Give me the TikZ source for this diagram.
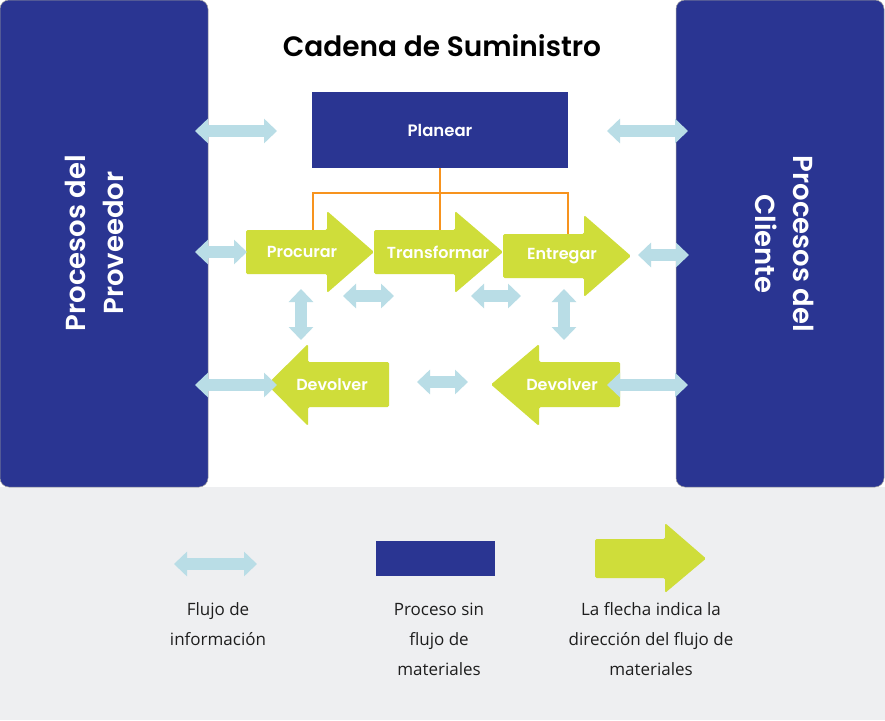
\documentclass[tikz,border=0pt]{standalone}
\usepackage{fontspec}
\setmainfont{Poppins}[BoldFont={Poppins SemiBold}]
\newfontfamily\legendfont{Open Sans}
\usetikzlibrary{arrows.meta}

\definecolor{navy}{HTML}{2A3592}
\definecolor{lime}{HTML}{CFDD3A}
\definecolor{skyinfo}{HTML}{B9DDE6}
\definecolor{tangerine}{HTML}{F7931E}
\definecolor{paper}{HTML}{EEEFF1}
\definecolor{ink}{HTML}{1E1E1E}

% Block arrow for material flow:
% #1 body end x, #2 body top, #3 body bottom, #4 head base x,
% #5 head top, #6 head bottom, #7 tip x
\newcommand\materialarrow[7]{%
  \fill[lime, rounded corners=1.5pt]
    (#1,#2) -- (#4,#2) -- (#4,#5) -- (#7,{(#2+#3)/2}) -- (#4,#6)
    -- (#4,#3) -- (#1,#3) -- cycle;}

\tikzset{
  sidebox/.style={fill=navy, draw=gray!75, line width=0.5pt, rounded corners=9pt,
    inner sep=0pt, outer sep=0pt, anchor=north west},
  sidetitle/.style={text=white, align=center, inner sep=0pt,
    font=\bfseries\fontsize{27.5}{38}\selectfont},
  planbox/.style={fill=navy, text=white, inner sep=0pt,
    minimum width=256pt, minimum height=76pt, font=\bfseries\fontsize{16.5}{18}\selectfont},
  flowlabel/.style={text=white, inner sep=0pt, font=\bfseries\fontsize{16}{18}\selectfont},
  planlink/.style={draw=tangerine, line width=2.8pt},
  info/.style={draw=skyinfo, line width=12.5pt,
    {Triangle[width=24pt,length=13pt]}-{Triangle[width=24pt,length=13pt]}},
  legendtext/.style={text=ink, align=center, inner sep=0pt,
    font=\legendfont\fontsize{17}{30}\selectfont},
}

\begin{document}
\begin{tikzpicture}[x=1pt, y=-1pt]
  \useasboundingbox (0,0) rectangle (885,720);
  % backgrounds
  \fill[white] (0,0) rectangle (885,487);
  \fill[paper] (0,487) rectangle (885,720);

  % outer partners
  \node[sidebox, minimum width=208pt, minimum height=487pt] (proveedor) at (0,0) {};
  \node[sidebox, minimum width=208pt, minimum height=487pt] (cliente) at (676,0) {};
  \node[sidetitle, rotate=90] (proveedortext) at (94,243) {Procesos del\\Proveedor};
  \node[sidetitle, rotate=-90] (clientetext) at (785,244) {Procesos del\\Cliente};

  % title
  \node[font=\bfseries\fontsize{28}{30}\selectfont, text=black, inner sep=0pt]
    (title) at (442,46) {Cadena de Suministro};

  % planning
  \node[planbox] (planear) at (440,130) {Planear};

  % planning links to the material processes
  \coordinate (procTop) at (313,230);
  \coordinate (transTop) at (440,230);
  \coordinate (entTop) at (568,234);
  \draw[planlink] (planear.south) -- (transTop);
  \draw[planlink] (procTop) -- ++(0,-37) -| (entTop);

  % material flow processes
  \materialarrow{246}{230}{274}{327}{211}{293}{374}
  \materialarrow{374}{230}{274}{455}{211}{293}{503}
  \materialarrow{503}{234}{278}{584}{215}{297}{631}
  \materialarrow{389}{362}{407}{308}{344}{426}{267}
  \materialarrow{620}{362}{407}{539}{344}{426}{491}

  \node[flowlabel] (procurar) at (302,252) {Procurar};
  \node[flowlabel] (transformar) at (438,252) {Transformar};
  \node[flowlabel] (entregar) at (562,256) {Entregar};
  \node[flowlabel] (devolverA) at (332,385) {Devolver};
  \node[flowlabel] (devolverB) at (562,385) {Devolver};

  % information flows
  \coordinate (iA1) at (195,131); \coordinate (iA2) at (277,131);
  \coordinate (iB1) at (607,131); \coordinate (iB2) at (688,131);
  \coordinate (iC1) at (195,252); \coordinate (iC2) at (247,252);
  \coordinate (iD1) at (638,255); \coordinate (iD2) at (689,255);
  \coordinate (iE1) at (195,385); \coordinate (iE2) at (277,385);
  \coordinate (iF1) at (607,385); \coordinate (iF2) at (688,385);
  \coordinate (iG1) at (343,296); \coordinate (iG2) at (394,296);
  \coordinate (iH1) at (471,296); \coordinate (iH2) at (521,296);
  \coordinate (iJ1) at (301,289); \coordinate (iJ2) at (301,340);
  \coordinate (iK1) at (564,289); \coordinate (iK2) at (564,340);
  \coordinate (iL1) at (417,382); \coordinate (iL2) at (468,382);
  \foreach \p in {A,B,C,D,E,F,G,H,J,K,L}
    \draw[info] (i\p1) -- (i\p2);

  % legend
  \coordinate (legInfo1) at (174,564); \coordinate (legInfo2) at (257,564);
  \draw[info] (legInfo1) -- (legInfo2);
  \node[fill=navy, minimum width=119pt, minimum height=35pt, inner sep=0pt]
    (legproc) at (435.5,558.5) {};
  \materialarrow{595}{539}{578}{665}{523}{593}{706}

  \node[legendtext] (leginfotext) at (218,624) {Flujo de\\información};
  \node[legendtext] (legproctext) at (439,639) {Proceso sin\\flujo de\\materiales};
  \node[legendtext] (legmattext) at (651,639) {La flecha indica la\\dirección del flujo de\\materiales};
\end{tikzpicture}
\end{document}
